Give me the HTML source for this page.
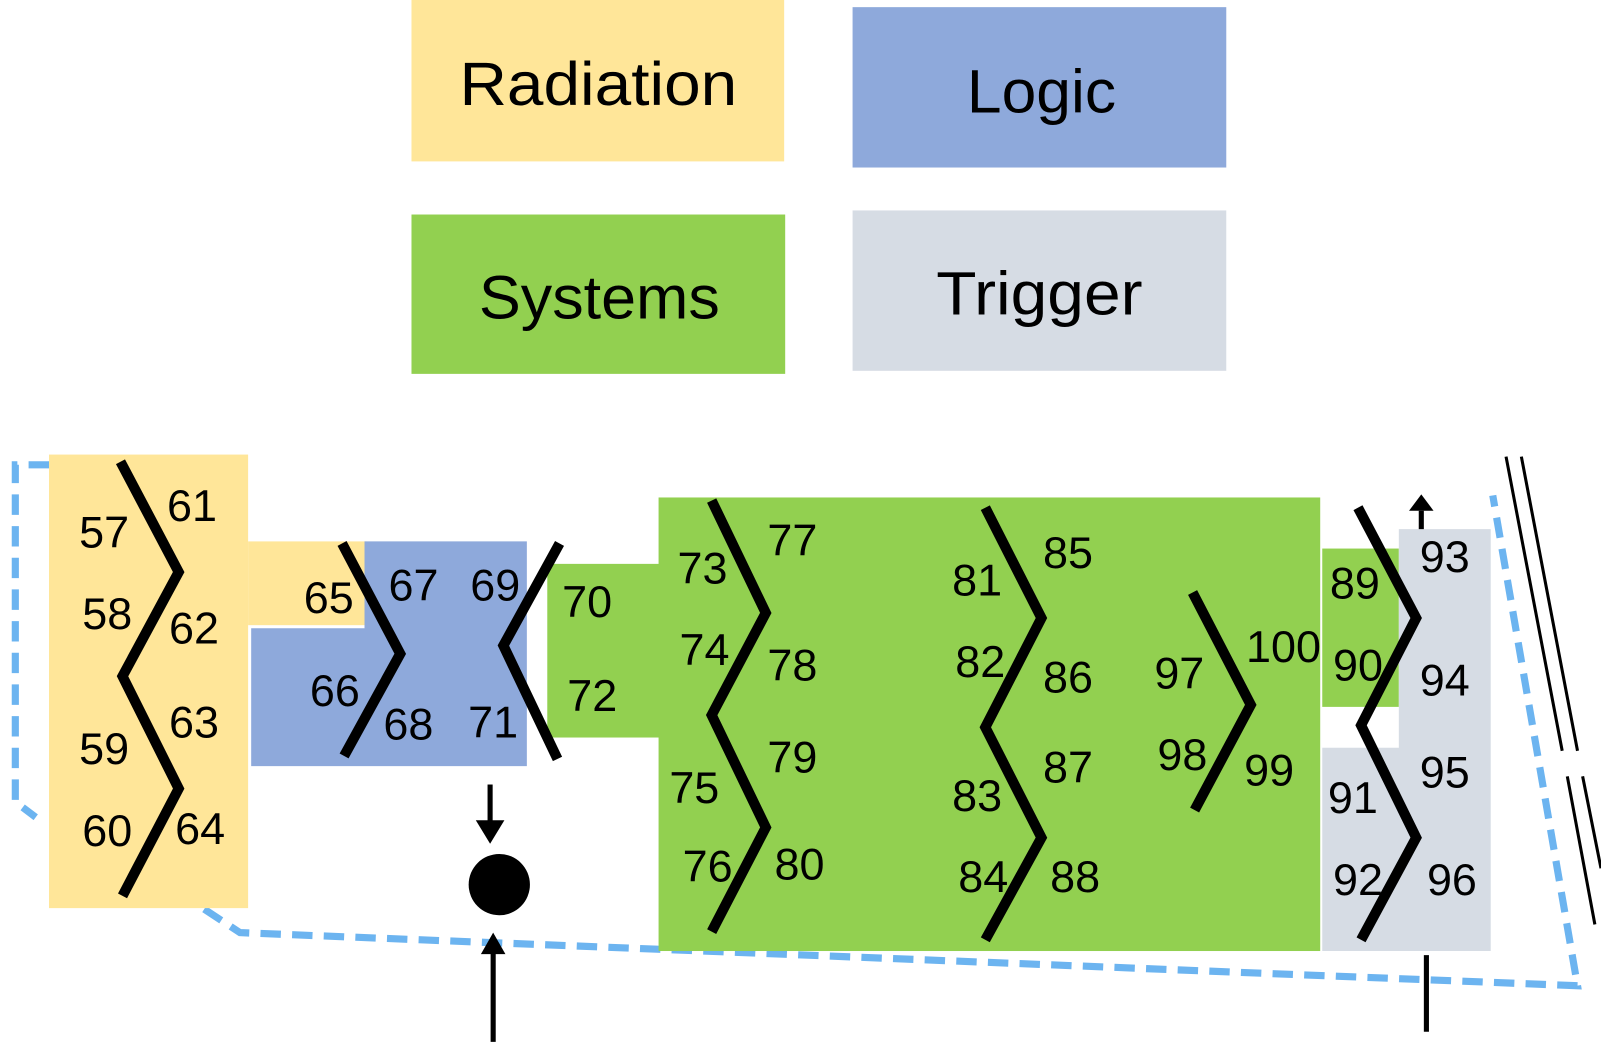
<!DOCTYPE html>
<html><head><meta charset="utf-8"><style>html,body{margin:0;padding:0;background:#fff}svg{display:block}</style></head>
<body>
<svg width="1601" height="1045" viewBox="0 0 1568 1023" preserveAspectRatio="none" xmlns="http://www.w3.org/2000/svg">
<rect width="1568" height="1023" fill="#fff"/>
<g font-family="Liberation Sans, sans-serif" fill="#000">
<rect x="403" y="0" width="365" height="158" fill="#FFE699"/>
<rect x="835" y="7" width="366" height="157" fill="#8EA9DB"/>
<rect x="403" y="210" width="366" height="156" fill="#92D050"/>
<rect x="835" y="206" width="366" height="157" fill="#D6DCE4"/>
<text x="586" y="103" font-size="60" text-anchor="middle" textLength="272" lengthAdjust="spacingAndGlyphs">Radiation</text>
<text x="1020" y="110" font-size="60" text-anchor="middle" textLength="146" lengthAdjust="spacingAndGlyphs">Logic</text>
<text x="587" y="312" font-size="60" text-anchor="middle" textLength="236" lengthAdjust="spacingAndGlyphs">Systems</text>
<text x="1018" y="308" font-size="60" text-anchor="middle" textLength="202" lengthAdjust="spacingAndGlyphs">Trigger</text>
</g>
<!-- dashed boundary -->
<path d="M48,455 L15,455 L15,785 L35,800 M200,890 L235,913 L1545,965 L1462,485" fill="none" stroke="#6CB4F0" stroke-width="7" stroke-dasharray="20,11"/>
<!-- right double lines -->
<path d="M1475,447 L1530,735 M1535,760 L1562,905" stroke="#000" stroke-width="3" fill="none"/>
<path d="M1490,447 L1545,735 M1550,760 L1568,850" stroke="#000" stroke-width="3" fill="none"/>
<!-- shapes -->
<rect x="48" y="445" width="195" height="444" fill="#FFE699"/>
<rect x="243" y="530" width="116" height="82" fill="#FFE699"/>
<polygon points="357,530 516,530 516,750 246,750 246,615 357,615" fill="#8EA9DB"/>
<rect x="536" y="552" width="110" height="170" fill="#92D050"/>
<rect x="645" y="487" width="648" height="444" fill="#92D050"/>
<rect x="1295" y="537" width="75" height="155" fill="#92D050"/>
<polygon points="1370,518 1460,518 1460,931 1295,931 1295,732 1370,732" fill="#D6DCE4"/>
<!-- arrows -->
<g stroke="#000" stroke-width="5" fill="none">
<line x1="480" y1="768" x2="480" y2="805"/>
<line x1="483" y1="1020" x2="483" y2="932"/>
<line x1="1392" y1="518" x2="1392" y2="500"/>
<line x1="1397" y1="935" x2="1397" y2="1010"/>
</g>
<polygon points="466,803 494,803 480,826" fill="#000"/>
<polygon points="471,934 495,934 483,913" fill="#000"/>
<polygon points="1380,500 1404,500 1392,484" fill="#000"/>
<ellipse cx="489" cy="866" rx="30" ry="30" fill="#000"/>
<!-- zigzags -->
<g stroke="#000" stroke-width="10" fill="none" stroke-linejoin="miter">
<polyline points="118,452 175,560 120,662 175,772 120,877"/>
<polyline points="335,532 392,640 337,740"/>
<polyline points="548,532 493,632 546,743"/>
<polyline points="697,490 750,600 697,700 750,810 697,912"/>
<polyline points="965,497 1020,605 965,712 1020,820 965,920"/>
<polyline points="1168,580 1225,690 1170,793"/>
<polyline points="1330,497 1387,605 1333,710 1387,820 1333,920"/>
</g>
<g font-family="Liberation Sans, sans-serif" font-size="44" text-anchor="middle" fill="#000">
<text x="102" y="536">57</text><text x="105" y="616">58</text><text x="102" y="748">59</text><text x="105" y="828">60</text>
<text x="188" y="510">61</text><text x="190" y="630">62</text><text x="190" y="722">63</text><text x="196" y="826">64</text>
<text x="322" y="600">65</text><text x="328" y="691">66</text><text x="405" y="588">67</text><text x="400" y="724">68</text>
<text x="485" y="588">69</text><text x="483" y="722">71</text><text x="575" y="604">70</text><text x="580" y="696">72</text>
<text x="688" y="571">73</text><text x="690" y="651">74</text><text x="680" y="786">75</text><text x="693" y="863">76</text>
<text x="776" y="544">77</text><text x="776" y="666">78</text><text x="776" y="756">79</text><text x="783" y="861">80</text>
<text x="957" y="583">81</text><text x="960" y="663">82</text><text x="957" y="794">83</text><text x="963" y="873">84</text>
<text x="1046" y="556">85</text><text x="1046" y="678">86</text><text x="1046" y="766">87</text><text x="1053" y="873">88</text>
<text x="1155" y="674">97</text><text x="1158" y="754">98</text><text x="1257" y="648">100</text><text x="1243" y="769">99</text>
<text x="1327" y="586">89</text><text x="1330" y="666">90</text><text x="1325" y="796">91</text><text x="1330" y="876">92</text>
<text x="1415" y="560">93</text><text x="1415" y="681">94</text><text x="1415" y="771">95</text><text x="1422" y="876">96</text>
</g>
</svg>
</body></html>
